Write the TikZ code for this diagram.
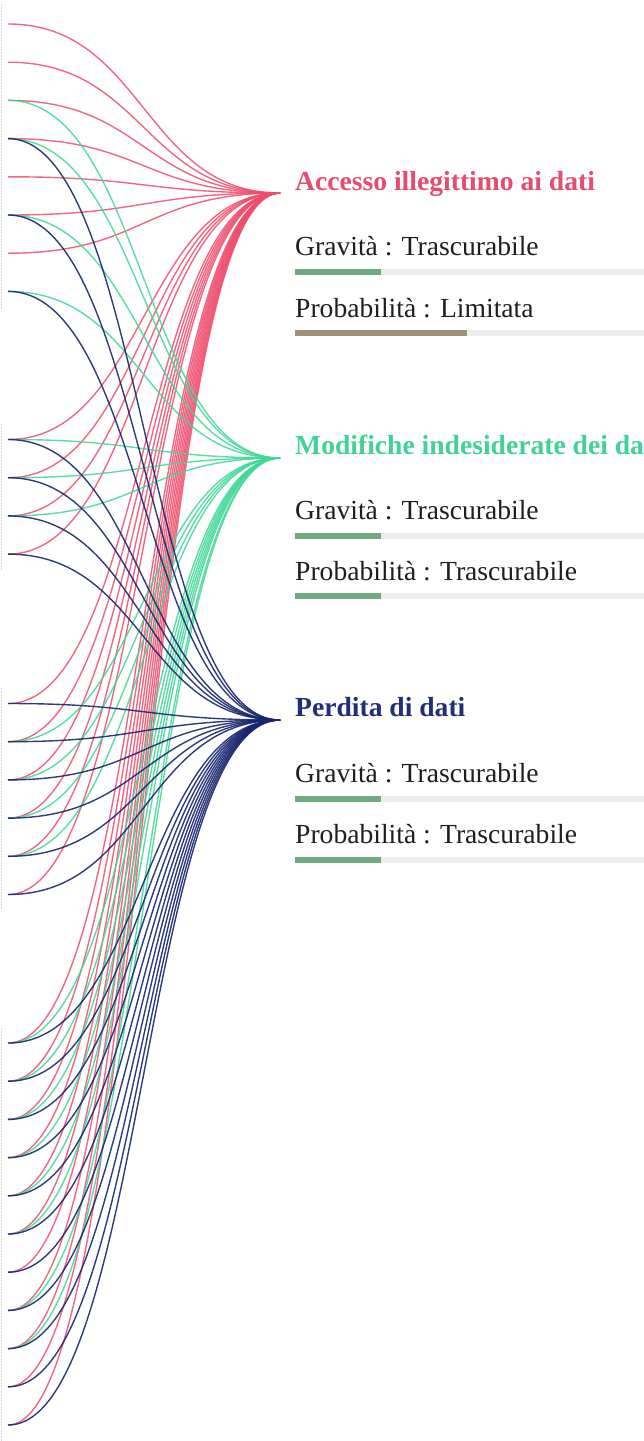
\documentclass[tikz,border=0pt]{standalone}
\usepackage{fontspec}
\setmainfont{Liberation Serif}
\definecolor{colA}{RGB}{240,76,108}
\definecolor{colM}{RGB}{62,216,150}
\definecolor{colP}{RGB}{24,38,110}
\definecolor{titA}{RGB}{232,76,108}
\definecolor{titM}{RGB}{66,210,150}
\definecolor{titP}{RGB}{34,46,120}
\definecolor{bodytxt}{RGB}{30,30,30}
\definecolor{track}{RGB}{236,236,236}
\definecolor{barlow}{RGB}{112,170,128}
\definecolor{barmid}{RGB}{160,146,122}
\definecolor{edge}{RGB}{215,215,215}
\begin{document}
\begin{tikzpicture}[x=1pt,y=-1pt,
  lnkA/.style={draw=colA,line width=1.4pt,opacity=0.85},
  lnkM/.style={draw=colM,line width=1.4pt,opacity=0.85},
  lnkP/.style={draw=colP,line width=1.4pt,opacity=0.9},
  ttl/.style={anchor=base west,inner sep=0pt,font=\fontsize{27.6}{33}\selectfont\bfseries},
  lbl/.style={anchor=base west,inner sep=0pt,text=bodytxt,font=\fontsize{27.6}{33}\selectfont},
  trk/.style={fill=track,draw=none},
  edgeline/.style={draw=edge,line width=0.8pt,dash pattern=on 1.5pt off 1.5pt}]
\useasboundingbox (0,0) rectangle (644,1441);
\fill[white] (0,0) rectangle (644,1441);

% faint left edge marks of the groups
\draw[edgeline] (1,4) -- (1,310);
\draw[edgeline] (1,424) -- (1,570);
\draw[edgeline] (1,688) -- (1,910);
\draw[edgeline] (1,1028) -- (1,1441);

% sources
\foreach \yy [count=\i] in {24,62.2,100.4,138.6,176.8,215,253.2,291.4,
    439.5,477.7,515.9,554.1,
    703.5,741.7,779.9,818.1,856.3,894.5,
    1043,1081.2,1119.4,1157.6,1195.8,1234,1272.2,1310.4,1348.6,1386.8,1425}
  \coordinate (s\i) at (8,\yy);

% targets
\coordinate (tA) at (280,193);
\coordinate (tM) at (280,458);
\coordinate (tP) at (280,720);
\coordinate (mid) at (144,0);

% links
\foreach \s in {1,2,3,4,5,6,7,9,10,11,12,13,14,15,16,17,18,19,20,21,22,23,24,25,26,27,28,29}
  \draw[lnkA] (s\s) .. controls (s\s -| mid) and (tA -| mid) .. (tA);
\foreach \s in {3,4,6,8,9,10,11,14,15,16,17,19,20,21,22,23,24,26,27}
  \draw[lnkM] (s\s) .. controls (s\s -| mid) and (tM -| mid) .. (tM);
\foreach \s in {4,6,8,9,10,11,12,13,14,15,16,17,18,19,20,21,22,23,24,25,26,27,28,29}
  \draw[lnkP] (s\s) .. controls (s\s -| mid) and (tP -| mid) .. (tP);

% block A
\node[ttl,text=titA] (hA) at (295,190) {Accesso illegittimo ai dati};
\node[lbl] (gA) at (295,255) {Gravità : Trascurabile};
\fill[trk] (295,269) rectangle (644,275);
\fill[barlow] (295,269) rectangle (381,275);
\node[lbl] (pA) at (295,317) {Probabilità : Limitata};
\fill[trk] (295,330) rectangle (644,336);
\fill[barmid] (295,330) rectangle (467,336);

% block M
\node[ttl,text=titM] (hM) at (295,454) {Modifiche indesiderate dei da};
\node[lbl] (gM) at (295,519) {Gravità : Trascurabile};
\fill[trk] (295,533) rectangle (644,539);
\fill[barlow] (295,533) rectangle (381,539);
\node[lbl] (pM) at (295,580) {Probabilità : Trascurabile};
\fill[trk] (295,593) rectangle (644,599);
\fill[barlow] (295,593) rectangle (381,599);

% block P
\node[ttl,text=titP] (hP) at (295,716) {Perdita di dati};
\node[lbl] (gP) at (295,782) {Gravità : Trascurabile};
\fill[trk] (295,796) rectangle (644,802);
\fill[barlow] (295,796) rectangle (381,802);
\node[lbl] (pP) at (295,843) {Probabilità : Trascurabile};
\fill[trk] (295,857) rectangle (644,863);
\fill[barlow] (295,857) rectangle (381,863);
\end{tikzpicture}
\end{document}
